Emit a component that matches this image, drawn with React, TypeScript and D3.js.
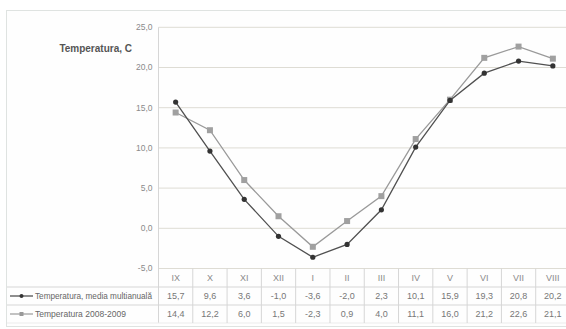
import React from "react";
import * as d3 from "d3";

const months = ["IX", "X", "XI", "XII", "I", "II", "III", "IV", "V", "VI", "VII", "VIII"];
const mediaMultianuala = [15.7, 9.6, 3.6, -1.0, -3.6, -2.0, 2.3, 10.1, 15.9, 19.3, 20.8, 20.2];
const temp20082009 = [14.4, 12.2, 6.0, 1.5, -2.3, 0.9, 4.0, 11.1, 16.0, 21.2, 22.6, 21.1];
const yTicks = [-5, 0, 5, 10, 15, 20, 25];
const seriesNames = ["Temperatura, media multianuală", "Temperatura 2008-2009"];
const axisTitle = "Temperatura, C";

const W = 566;
const H = 329;
const plotLeft = 158.5;
const plotRight = 570;
const plotTop = 27.3;
const plotBottom = 268.5;
const rowH = 18;
const font = "'Liberation Sans', Arial, sans-serif";

// one decimal, comma separator, plain hyphen for negatives
const fmt = (v: number) => d3.format(".1f")(v).replace("\u2212", "-").replace(".", ",");

export default function App() {
  const x = d3.scaleBand<string>().domain(months).range([plotLeft, plotRight]).padding(0);
  const y = d3.scaleLinear().domain([-5, 25]).range([plotBottom, plotTop]);
  const cx = (m: string) => (x(m) as number) + x.bandwidth() / 2;

  const line = d3
    .line<number>()
    .x((_, i) => cx(months[i]))
    .y((d) => y(d));

  const row1Top = plotBottom + rowH + 0.5;
  const row2Top = row1Top + rowH;
  const tableBottom = row2Top + rowH;
  const gridColor = "#dedcd4";
  const tableColor = "#d6d6d6";

  return (
    <svg
      width={W}
      height={H}
      style={{ position: "absolute", left: 0, top: 0, background: "#fff" }}
    >
      {/* outer frame */}
      <rect x={6.5} y={10.5} width={W} height={316} fill="#fefefe" stroke="#dfe3e1" />

      {/* horizontal gridlines and y tick labels */}
      {yTicks.map((t) => (
        <g key={t}>
          <line x1={plotLeft} x2={W} y1={y(t)} y2={y(t)} stroke={gridColor} strokeWidth={1} />
          <text
            x={plotLeft - 6}
            y={y(t)}
            dy="0.35em"
            textAnchor="end"
            fontFamily={font}
            fontSize={8.5}
            fill="#8a8a8a"
          >
            {fmt(t)}
          </text>
        </g>
      ))}
      <line x1={plotLeft} x2={plotLeft} y1={plotTop} y2={tableBottom} stroke={tableColor} />

      <text x={132} y={48} dy="0.35em" textAnchor="end" fontFamily={font} fontSize={10} fontWeight="bold" fill="#555">
        {axisTitle}
      </text>

      {/* data table */}
      <line x1={7} x2={W} y1={row1Top} y2={row1Top} stroke={tableColor} />
      <line x1={7} x2={W} y1={row2Top} y2={row2Top} stroke={tableColor} />
      <line x1={7} x2={W} y1={tableBottom} y2={tableBottom} stroke="#ececec" />
      {months.map((m, i) => (
        <g key={m}>
          {i > 0 && (
            <line x1={x(m)} x2={x(m)} y1={plotBottom} y2={tableBottom} stroke={tableColor} />
          )}
          <text x={cx(m)} y={plotBottom + rowH / 2 + 0.5} dy="0.35em" textAnchor="middle" fontFamily={font} fontSize={9} fill="#8a8a8a">
            {m}
          </text>
          <text x={cx(m)} y={row1Top + rowH / 2} dy="0.35em" textAnchor="middle" fontFamily={font} fontSize={9} fill="#777">
            {fmt(mediaMultianuala[i])}
          </text>
          <text x={cx(m)} y={row2Top + rowH / 2} dy="0.35em" textAnchor="middle" fontFamily={font} fontSize={9} fill="#777">
            {fmt(temp20082009[i])}
          </text>
        </g>
      ))}

      {/* legend keys inside the table */}
      <line x1={10} x2={33} y1={row1Top + rowH / 2} y2={row1Top + rowH / 2} stroke="#444" strokeWidth={1.2} />
      <circle cx={21.5} cy={row1Top + rowH / 2} r={2} fill="#333" />
      <text
        x={35}
        y={row1Top + rowH / 2}
        dy="0.35em"
        fontFamily={font}
        fontSize={9}
        fill="#666"
        textLength={117}
        lengthAdjust="spacingAndGlyphs"
      >
        {seriesNames[0]}
      </text>
      <line x1={10} x2={33} y1={row2Top + rowH / 2} y2={row2Top + rowH / 2} stroke="#999" strokeWidth={1.2} />
      <rect x={19.5} y={row2Top + rowH / 2 - 2} width={4} height={4} fill="#999" />
      <text
        x={35}
        y={row2Top + rowH / 2}
        dy="0.35em"
        fontFamily={font}
        fontSize={9}
        fill="#666"
        textLength={91}
        lengthAdjust="spacingAndGlyphs"
      >
        {seriesNames[1]}
      </text>

      {/* series 2008-2009 */}
      <path d={line(temp20082009) ?? ""} fill="none" stroke="#9a9a9a" strokeWidth={1.3} />
      {temp20082009.map((v, i) => (
        <rect key={i} x={cx(months[i]) - 3} y={y(v) - 3} width={6} height={6} fill="#a0a0a0" />
      ))}

      {/* multi-year mean */}
      <path d={line(mediaMultianuala) ?? ""} fill="none" stroke="#505050" strokeWidth={1.3} />
      {mediaMultianuala.map((v, i) => (
        <circle key={i} cx={cx(months[i])} cy={y(v)} r={2.6} fill="#333" />
      ))}
    </svg>
  );
}
